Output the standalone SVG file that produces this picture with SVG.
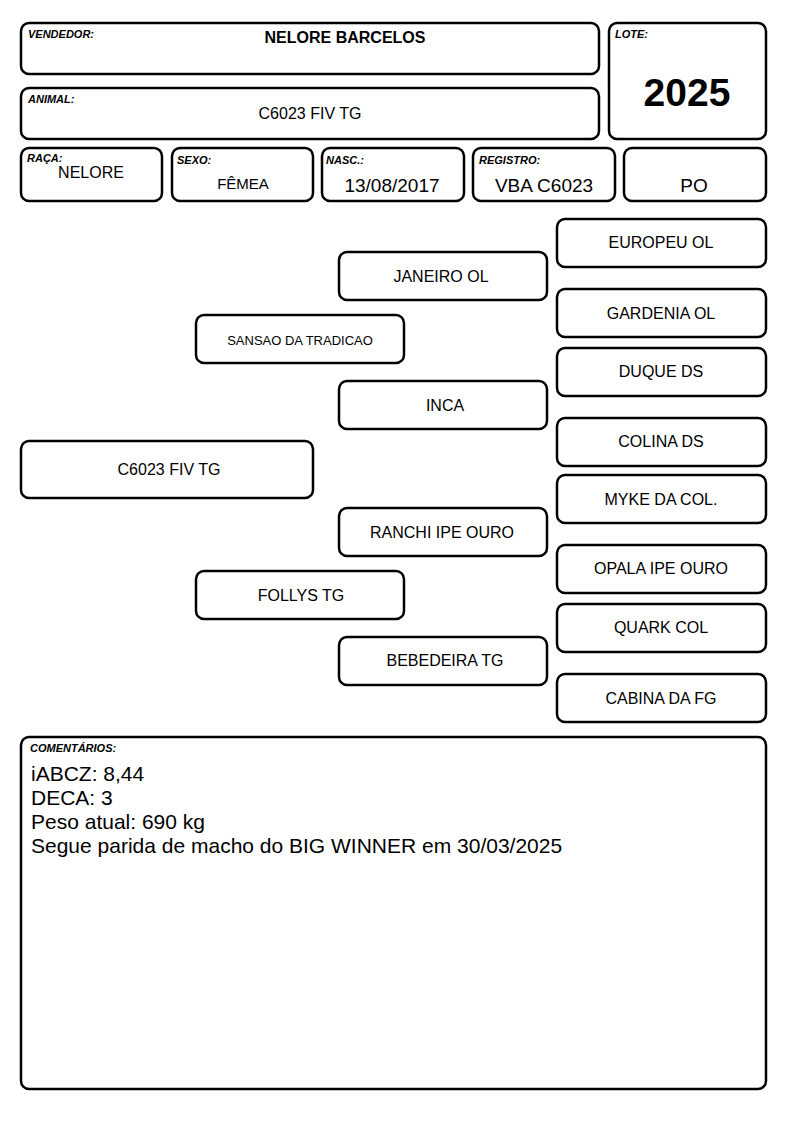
<svg xmlns="http://www.w3.org/2000/svg" width="794" height="1123" viewBox="0 0 794 1123">
<style>
.b{fill:#fff;stroke:#000;stroke-width:2.5}
.lb{font-family:"Liberation Sans",Arial,sans-serif;font-size:11px;font-weight:bold;font-style:italic}
.t{font-family:"Liberation Sans",Arial,sans-serif;font-size:16px;text-anchor:middle}
.v{font-family:"Liberation Sans",Arial,sans-serif;text-anchor:middle}
.c{font-family:"Liberation Sans",Arial,sans-serif;font-size:21px}
</style>
<rect width="794" height="1123" fill="#fff"/>
<g id="vendedor"><rect class="b" x="21" y="23" width="578" height="51" rx="8"/><text class="lb" x="28" y="38">VENDEDOR:</text><text class="v" x="345" y="43" font-size="16" font-weight="bold">NELORE BARCELOS</text></g>
<g id="animal"><rect class="b" x="21" y="88" width="578" height="51" rx="8"/><text class="lb" x="28" y="103">ANIMAL:</text><text class="t" x="310" y="119">C6023 FIV TG</text></g>
<g id="lote"><rect class="b" x="609" y="23" width="157" height="116" rx="8"/><text class="lb" x="615" y="38">LOTE:</text><text class="v" x="687" y="106" font-size="39" font-weight="bold">2025</text></g>
<g id="raca"><rect class="b" x="21" y="148" width="141" height="53" rx="8"/><text class="lb" x="27" y="162">RAÇA:</text><text class="t" x="91" y="178">NELORE</text></g>
<g id="sexo"><rect class="b" x="172" y="148" width="141" height="53" rx="8"/><text class="lb" x="177" y="164">SEXO:</text><text class="v" x="243" y="189" font-size="15">FÊMEA</text></g>
<g id="nasc"><rect class="b" x="322" y="148" width="142" height="53" rx="8"/><text class="lb" x="326" y="164">NASC.:</text><text class="v" x="392" y="192" font-size="19">13/08/2017</text></g>
<g id="registro"><rect class="b" x="473" y="148" width="142" height="53" rx="8"/><text class="lb" x="479" y="164">REGISTRO:</text><text class="v" x="544" y="192" font-size="19">VBA C6023</text></g>
<g id="po"><rect class="b" x="624" y="148" width="142" height="53" rx="8"/><text class="v" x="694" y="192" font-size="19">PO</text></g>
<g id="ped-animal"><rect class="b" x="21" y="441" width="292" height="57" rx="8"/><text class="t" x="169" y="475">C6023 FIV TG</text></g>
<g id="sansao"><rect class="b" x="196" y="315" width="208" height="48" rx="8"/><text class="v" x="300" y="345" font-size="13">SANSAO DA TRADICAO</text></g>
<g id="follys"><rect class="b" x="196" y="571" width="208" height="48" rx="8"/><text class="t" x="301" y="601">FOLLYS TG</text></g>
<g id="janeiro"><rect class="b" x="339" y="252" width="208" height="48" rx="8"/><text class="t" x="441" y="282">JANEIRO OL</text></g>
<g id="inca"><rect class="b" x="339" y="381" width="208" height="48" rx="8"/><text class="t" x="445" y="411">INCA</text></g>
<g id="ranchi"><rect class="b" x="339" y="508" width="208" height="48" rx="8"/><text class="t" x="442" y="538">RANCHI IPE OURO</text></g>
<g id="bebedeira"><rect class="b" x="339" y="637" width="208" height="48" rx="8"/><text class="t" x="445" y="666">BEBEDEIRA TG</text></g>
<g id="europeu"><rect class="b" x="557" y="219" width="209" height="48" rx="8"/><text class="t" x="661" y="248">EUROPEU OL</text></g>
<g id="gardenia"><rect class="b" x="557" y="289" width="209" height="48" rx="8"/><text class="t" x="661" y="319">GARDENIA OL</text></g>
<g id="duque"><rect class="b" x="557" y="348" width="209" height="48" rx="8"/><text class="t" x="661" y="377">DUQUE DS</text></g>
<g id="colina"><rect class="b" x="557" y="418" width="209" height="48" rx="8"/><text class="t" x="661" y="447">COLINA DS</text></g>
<g id="myke"><rect class="b" x="557" y="475" width="209" height="48" rx="8"/><text class="t" x="661" y="505">MYKE DA COL.</text></g>
<g id="opala"><rect class="b" x="557" y="545" width="209" height="48" rx="8"/><text class="t" x="661" y="574">OPALA IPE OURO</text></g>
<g id="quark"><rect class="b" x="557" y="604" width="209" height="48" rx="8"/><text class="t" x="661" y="633">QUARK COL</text></g>
<g id="cabina"><rect class="b" x="557" y="674" width="209" height="48" rx="8"/><text class="t" x="661" y="704">CABINA DA FG</text></g>
<g id="connectors"></g>
<g id="comentarios"><rect class="b" x="21" y="737" width="745" height="352" rx="8"/><text class="lb" x="30" y="752">COMENTÁRIOS:</text>
<text class="c" x="31" y="781">iABCZ: 8,44</text>
<text class="c" x="31" y="805">DECA: 3</text>
<text class="c" x="31" y="829">Peso atual: 690 kg</text>
<text class="c" x="31" y="853">Segue parida de macho do BIG WINNER em 30/03/2025</text></g>
</svg>
